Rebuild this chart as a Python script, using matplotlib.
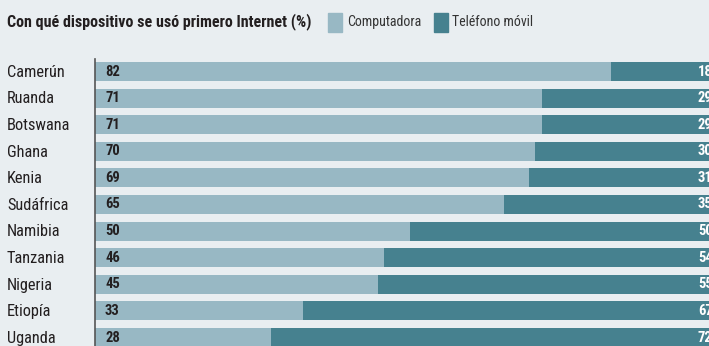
import numpy as np
import matplotlib
matplotlib.use("Agg")
import matplotlib.pyplot as plt
from matplotlib.patches import Rectangle

# Con qué dispositivo se usó primero Internet (%)
paises = ["Camerún", "Ruanda", "Botswana", "Ghana", "Kenia", "Sudáfrica",
          "Namibia", "Tanzania", "Nigeria", "Etiopía", "Uganda"]
computadora = [82, 71, 71, 70, 69, 65, 50, 46, 45, 33, 28]
telefono = [18, 29, 29, 30, 31, 35, 50, 54, 55, 67, 72]

bg = "#e9eef1"
c_comp = "#98b8c4"
c_tel = "#46818f"
txt = "#231f20"
fam = ["Roboto Condensed", "Archivo Narrow", "DejaVu Sans"]

W, H = 709, 346
fig = plt.figure(figsize=(W / 100, H / 100), dpi=100, facecolor=bg)

# axes placed in pixel terms; the 100% end runs off the right edge
x0, x100 = 95, 724
ax = fig.add_axes([x0 / W, 0, (x100 - x0) / W, 1])
ax.set_facecolor(bg)
pitch, top = 26.6, 71.5
ax.set_xlim(0, 100)
ax.set_ylim((H - top) / pitch, -top / pitch)
ax.axis("off")

y = np.arange(len(paises))
ax.barh(y, computadora, height=0.72, color=c_comp, linewidth=0)
ax.barh(y, telefono, left=computadora, height=0.72, color=c_tel, linewidth=0)
ax.plot([0, 0], [-0.47, len(paises)], color="#555555", lw=1.2, clip_on=False)

px = 100 / (x100 - x0)
for i, (p, c, t) in enumerate(zip(paises, computadora, telefono)):
    ax.text((7 - x0) * px, i + 0.03, p, ha="left", va="center", fontsize=11.8,
            family=fam, color=txt, clip_on=False)
    ax.text(10 * px, i, str(c), ha="left", va="center", fontsize=10.5,
            family=fam, fontweight="bold", color=txt)
    ax.text((698 - x0) * px, i, str(t), ha="left", va="center", fontsize=10.5,
            family=fam, fontweight="bold", color="white", clip_on=False)

# title and legend
fig.text(7 / W, 1 - 22 / H, "Con qué dispositivo se usó primero Internet (%)",
         ha="left", va="center", fontsize=11.5, fontweight="bold",
         family=fam, color=txt)
for x_box, x_lab, lab, col in [(328, 347, "Computadora", c_comp),
                               (434, 452, "Teléfono móvil", c_tel)]:
    fig.patches.append(Rectangle((x_box / W, 1 - 32 / H), 14 / W, 19 / H,
                                 transform=fig.transFigure, color=col))
    fig.text(x_lab / W, 1 - 22 / H, lab, ha="left", va="center",
             fontsize=10, family=fam, color="#333333")

fig.savefig("out.png", dpi=100, facecolor=bg)
